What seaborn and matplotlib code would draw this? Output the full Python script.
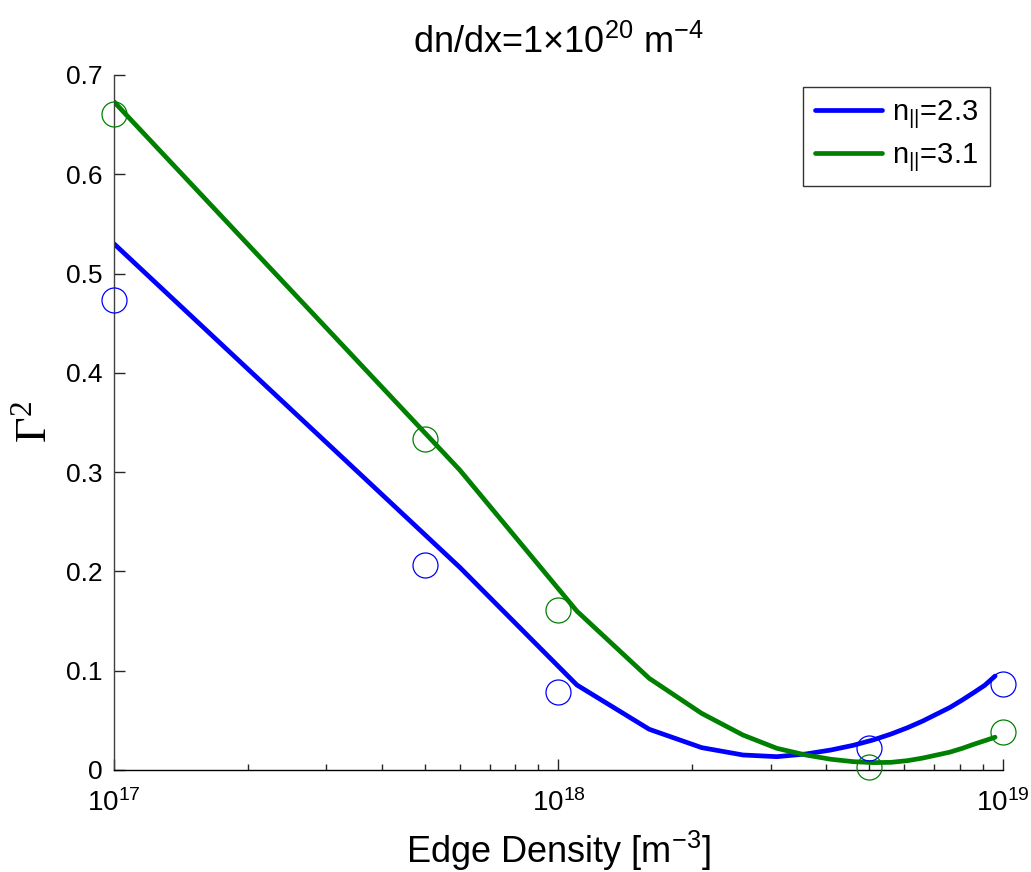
import numpy as np
import pandas as pd
import matplotlib
matplotlib.use("Agg")
import matplotlib.pyplot as plt
import seaborn as sns
from matplotlib.ticker import LogLocator

# --- data ---
fit_density = [1e17, 6e17, 1.1e18, 1.6e18, 2.1e18, 2.6e18, 3.1e18, 3.6e18, 4.1e18, 4.6e18,
               5.1e18, 5.6e18, 6.1e18, 6.6e18, 7.1e18, 7.6e18, 8.1e18, 8.6e18, 9.1e18, 9.6e18]
fit_n23 = [0.530, 0.204, 0.0856, 0.041, 0.0225, 0.0151, 0.0134, 0.0161, 0.0201, 0.0248,
           0.0302, 0.0362, 0.0426, 0.0493, 0.0564, 0.063, 0.0705, 0.078, 0.0853, 0.0946]
fit_n31 = [0.673, 0.302, 0.160, 0.0923, 0.057, 0.0352, 0.0218, 0.0151, 0.0108, 0.0084,
           0.0074, 0.0077, 0.0094, 0.012, 0.0151, 0.018, 0.0218, 0.0259, 0.0295, 0.033]

meas_density = [1e17, 5e17, 1e18, 5e18, 1e19]
meas_n23 = [0.473, 0.206, 0.0785, 0.0218, 0.0863]
meas_n31 = [0.661, 0.333, 0.161, 0.0034, 0.038]

series_labels = [r"n$_{||}$=2.3", r"n$_{||}$=3.1"]
series_colors = ["#0000ff", "#008000"]

sns.set_theme(style="white")
plt.rcParams["font.family"] = ["Liberation Sans", "DejaVu Sans"]
plt.rcParams["mathtext.fontset"] = "custom"
plt.rcParams["mathtext.rm"] = "Liberation Sans"
plt.rcParams["mathtext.it"] = "Liberation Sans:italic"
plt.rcParams["mathtext.bf"] = "Liberation Sans:bold"
plt.rcParams["mathtext.default"] = "regular"
for key in ["text.color", "axes.labelcolor", "xtick.color", "ytick.color"]:
    plt.rcParams[key] = "black"

fits = pd.DataFrame({
    "density": fit_density * 2,
    "gamma2": fit_n23 + fit_n31,
    "series": [series_labels[0]] * len(fit_density) + [series_labels[1]] * len(fit_density),
})
meas = pd.DataFrame({
    "density": meas_density * 2,
    "gamma2": meas_n23 + meas_n31,
    "series": [series_labels[0]] * len(meas_density) + [series_labels[1]] * len(meas_density),
})
palette = dict(zip(series_labels, series_colors))

fig = plt.figure(figsize=(10.31, 8.72), dpi=100)
ax = fig.add_axes([0.1106, 0.117, 0.8622, 0.797])

sns.lineplot(data=fits, x="density", y="gamma2", hue="series", palette=palette,
             linewidth=3.4, ax=ax, legend=True)
for lab, col in zip(series_labels, series_colors):
    sub = meas[meas["series"] == lab]
    ax.plot(sub["density"], sub["gamma2"], linestyle="none", marker="o", markersize=18,
            markerfacecolor="none", markeredgecolor=col, markeredgewidth=0.9, clip_on=False,
            zorder=3)

ax.set_xscale("log")
ax.set_xlim(1e17, 1e19)
ax.set_ylim(0, 0.7)
ax.set_yticks(np.arange(0, 0.71, 0.1))
ax.set_yticklabels(["0", "0.1", "0.2", "0.3", "0.4", "0.5", "0.6", "0.7"])
ax.xaxis.set_major_locator(LogLocator(base=10))
ax.xaxis.set_minor_locator(LogLocator(base=10, subs=np.arange(2, 10)))

for side in ["top", "right"]:
    ax.spines[side].set_visible(False)
ax.spines["left"].set_color("#404040")
ax.spines["bottom"].set_color("black")
for side in ["left", "bottom"]:
    ax.spines[side].set_linewidth(1.0)

ax.tick_params(axis="both", which="both", bottom=True, left=True, top=False, right=False)
ax.tick_params(axis="both", which="major", direction="in", length=8, width=1,
               labelsize=19, color="#262626", pad=8)
ax.tick_params(axis="x", which="minor", direction="in", length=4, width=1, color="#262626")
ax.tick_params(axis="x", which="major", pad=14, labelsize=20)

ax.set_xlabel(r"Edge Density [m$^{-3}$]", fontsize=26, labelpad=8)
ax.set_ylabel(r"Γ$^{2}$", fontsize=32, family=["Liberation Serif", "DejaVu Serif"],
              labelpad=8)
ax.set_title(r"dn/dx=1$\times$10$^{20}$ m$^{-4}$", fontsize=26, pad=16)

leg = ax.legend(loc="upper right", fontsize=21, frameon=True, fancybox=False,
                edgecolor="black", handlelength=2.3, handletextpad=0.35, borderpad=0.4,
                borderaxespad=0, labelspacing=0.35, bbox_to_anchor=(0.985, 0.983))
leg.get_frame().set_linewidth(1.0)
leg.set_title(None)

fig.savefig("out.png", dpi=100)
